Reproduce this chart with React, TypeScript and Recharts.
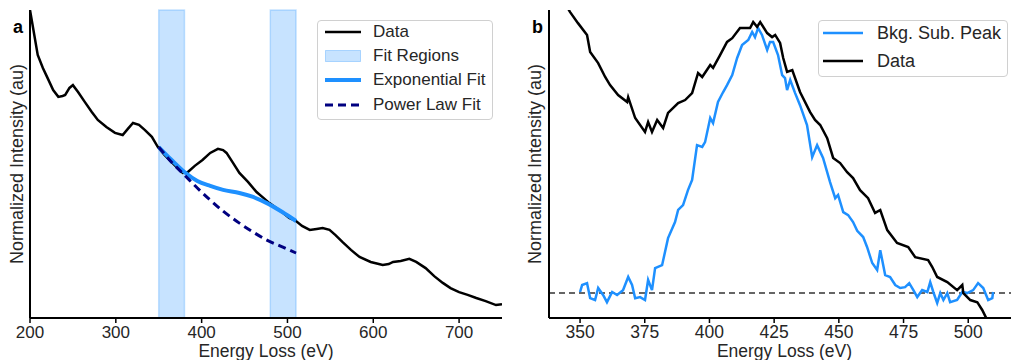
import React from 'react';
import { ComposedChart, Line, XAxis, YAxis, ReferenceArea, ReferenceLine } from 'recharts';

const FONT = '"Liberation Sans", Arial, Helvetica, sans-serif';
const TEXT = '#262626';

// ---------- Panel a ----------
const aEnergy = [200,205,209,215,220,227,233,238,241,246,250,256,264,272,279,289,299,308,314,320,327,334,342,349,357,365,372,378,384,392,401,410,419,425,429,436,444,454,464,472,479,487,495,502,510,517,526,534,541,549,556,564,574,584,597,611,618,623,632,642,650,661,671,681,690,700,710,720,731,743,750];
const aData = [1.0,0.919,0.854,0.812,0.782,0.740,0.718,0.721,0.724,0.747,0.756,0.734,0.701,0.669,0.643,0.620,0.601,0.594,0.614,0.633,0.627,0.610,0.588,0.555,0.529,0.506,0.487,0.471,0.474,0.494,0.513,0.536,0.549,0.545,0.536,0.506,0.471,0.442,0.409,0.390,0.373,0.357,0.341,0.325,0.315,0.299,0.286,0.289,0.292,0.286,0.269,0.247,0.221,0.198,0.182,0.172,0.175,0.182,0.185,0.192,0.182,0.162,0.136,0.114,0.097,0.084,0.075,0.065,0.055,0.042,0.045];
const fitEnergy = [350,365,380,395,410,425,444,460,476,494,510];
const expFit = [0.555,0.513,0.474,0.445,0.429,0.416,0.406,0.393,0.373,0.344,0.315];
const powFit = [0.555,0.506,0.464,0.422,0.383,0.347,0.308,0.279,0.253,0.231,0.211];
const fitRegions = [[350, 380], [480, 510]];
const aTicks = [200, 300, 400, 500, 600, 700];
const aLegend = ['Data', 'Fit Regions', 'Exponential Fit', 'Power Law Fit'];

// ---------- Panel b ----------
const bEnergy = [340,346.1,349.2,352.7,353.9,357,359.7,361.6,364.7,368.2,368.6,371.3,375.1,376.3,377.8,379.8,382.1,384,387.9,390.6,393.3,395.6,397.2,400.3,401.4,404.1,406.8,408.8,411.8,415.7,416.9,418.4,419.6,422.3,424.2,425.4,427.3,428.5,430,432,435,438.9,440.8,442.8,445.5,447.8,450.5,453.2,455.5,458.2,461.3,464,466,468.7,472.5,476.8,479.5,484.5,486.1,488,491.9,495.7,497.7,498.1,500.8,503.5,505.4,507.3,508.5];
const bData = [1.15,1.049,1.007,0.963,0.899,0.858,0.806,0.776,0.739,0.713,0.731,0.653,0.601,0.638,0.601,0.646,0.616,0.672,0.709,0.720,0.746,0.821,0.806,0.851,0.840,0.888,0.937,0.951,0.989,0.989,1.011,0.993,1.011,0.970,0.955,0.963,0.933,0.877,0.825,0.832,0.750,0.675,0.646,0.627,0.578,0.504,0.485,0.451,0.429,0.384,0.354,0.299,0.310,0.235,0.187,0.172,0.134,0.123,0.097,0.060,0.041,0.011,0.030,0.000,-0.026,-0.034,-0.063,-0.1,-0.15];
const peakEnergy = [350,350.8,352.7,353.9,355.8,357,358.9,360.4,362.4,364.3,366.6,368.6,370.1,371.3,373.2,375.1,376.3,377.8,379,381.7,384,386.7,387.9,389.8,391.7,393.3,395.2,397.2,398.3,400.3,401.4,403.3,405.3,406.8,408.8,410.7,412.6,415,416.5,417.6,418.8,420.3,422.3,423.4,424.6,426.5,428.1,429.2,430,431.2,433.1,435,437.7,439.7,441.6,443.9,446.6,448.6,449.7,451.7,453.6,455.5,457.1,459.4,460.9,462.9,464.8,466,467.9,469.8,471.8,473.7,475.6,477.2,478.8,480.3,482.2,484.2,485.3,486.5,488,489.2,490.4,491.9,493,495.7,497.7,499.6,501.9,503.8,505.8,507.7,509.3,509.6];
const peakData = [0.004,0.030,0.037,-0.019,-0.026,0.019,-0.007,-0.034,0.004,-0.007,0.011,0.060,0.030,-0.019,-0.015,-0.026,0.049,0.011,0.093,0.104,0.205,0.265,0.310,0.328,0.384,0.422,0.552,0.545,0.563,0.653,0.634,0.713,0.750,0.776,0.813,0.877,0.925,0.944,0.974,0.955,0.989,0.963,0.907,0.937,0.937,0.888,0.813,0.802,0.757,0.795,0.746,0.701,0.627,0.507,0.552,0.504,0.414,0.354,0.366,0.302,0.291,0.265,0.232,0.209,0.172,0.112,0.086,0.160,0.067,0.060,0.030,0.019,0.022,0.037,0.011,-0.015,0.011,0.004,0.041,0.004,-0.037,0.000,-0.026,0.000,-0.034,-0.026,0.004,0.000,0.011,0.037,0.019,-0.026,-0.019,0.004];
const bTicks = [350, 375, 400, 425, 450, 475, 500];
const bLegend = ['Bkg. Sub. Peak', 'Data'];

const zip = (xs: number[], ys: number[]) => xs.map((x, i) => ({ x, y: ys[i] }));

const DODGER = '#1e90ff';
const NAVY = '#000080';

function LegendA() {
  const centers = [12, 36, 60, 85];
  const samples = [
    <line x1={0} y1={6} x2={36} y2={6} stroke="#000" strokeWidth={2.5} />,
    <rect x={0.5} y={0.5} width={35} height={11} fill={DODGER} fillOpacity={0.25} stroke={DODGER} strokeOpacity={0.3} />,
    <line x1={0} y1={6} x2={36} y2={6} stroke={DODGER} strokeWidth={4} />,
    <line x1={0} y1={6} x2={36} y2={6} stroke={NAVY} strokeWidth={3} strokeDasharray="8 5" />,
  ];
  return (
    <div style={{ position: 'absolute', left: 317, top: 20, width: 176, height: 100, border: '1px solid #d0d0d0', borderRadius: 4, background: 'rgba(255,255,255,0.85)', boxSizing: 'border-box', fontFamily: FONT, fontSize: 17, color: TEXT }}>
      {aLegend.map((t, i) => (
        <div key={t} style={{ position: 'absolute', left: 7, top: centers[i] - 1 - 12, height: 24, display: 'flex', alignItems: 'center', whiteSpace: 'nowrap' }}>
          <svg width={36} height={12} style={{ display: 'block' }}>{samples[i]}</svg>
          <span style={{ marginLeft: 12 }}>{t}</span>
        </div>
      ))}
    </div>
  );
}

function LegendB() {
  const centers = [13, 41];
  const colors = [DODGER, '#000'];
  return (
    <div style={{ position: 'absolute', left: 818, top: 20, width: 190, height: 57, border: '1px solid #d0d0d0', borderRadius: 4, background: 'rgba(255,255,255,0.85)', boxSizing: 'border-box', fontFamily: FONT, fontSize: 18, color: TEXT }}>
      {bLegend.map((t, i) => (
        <div key={t} style={{ position: 'absolute', left: 4, top: centers[i] - 1 - 13, height: 26, display: 'flex', alignItems: 'center', whiteSpace: 'nowrap' }}>
          <svg width={40} height={12} style={{ display: 'block' }}>
            <line x1={0} y1={6} x2={40} y2={6} stroke={colors[i]} strokeWidth={2.5} />
          </svg>
          <span style={{ marginLeft: 14 }}>{t}</span>
        </div>
      ))}
    </div>
  );
}

const axisLine = { stroke: '#000', strokeWidth: 2 };
const tickLine = { stroke: '#000', strokeWidth: 1.5 };

export default function App() {
  return (
    <div style={{ position: 'absolute', left: 0, top: 0, width: 1011, height: 360, overflow: 'hidden', background: '#fff', fontFamily: FONT }}>
      <div style={{ position: 'absolute', left: 0, top: 0 }}>
        <ComposedChart width={520} height={360} margin={{ top: 10, right: 18, left: 0, bottom: 0 }}>
          <XAxis dataKey="x" type="number" domain={[200, 750]} ticks={aTicks} allowDataOverflow
            height={42} tickSize={5} tickMargin={3} axisLine={axisLine} tickLine={tickLine}
            tick={{ fontSize: 17, fill: TEXT }}
            label={{ value: 'Energy Loss (eV)', position: 'insideBottom', offset: 3, fontSize: 17.5, fill: TEXT }} />
          <XAxis xAxisId="top" orientation="top" type="number" domain={[200, 750]} height={0} tick={false} tickLine={false} axisLine={axisLine} />
          <YAxis type="number" domain={[0, 1]} allowDataOverflow width={30} tick={false} tickLine={false} axisLine={axisLine}
            label={{ value: 'Normalized Intensity (au)', angle: -90, position: 'center', dx: 2, fontSize: 18, fill: TEXT }} />
          <YAxis yAxisId="right" orientation="right" type="number" domain={[0, 1]} width={0} tick={false} tickLine={false} axisLine={axisLine} />
          {fitRegions.map(([a, b]) => (
            <ReferenceArea key={a} x1={a} x2={b} fill={DODGER} fillOpacity={0.25} stroke={DODGER} strokeOpacity={0.25} strokeWidth={1.5} />
          ))}
          <Line data={zip(aEnergy, aData)} dataKey="y" type="linear" dot={false} activeDot={false} stroke="#000" strokeWidth={2.5} isAnimationActive={false} />
          <Line data={zip(fitEnergy, expFit)} dataKey="y" type="monotone" dot={false} activeDot={false} stroke={DODGER} strokeWidth={4} isAnimationActive={false} />
          <Line data={zip(fitEnergy, powFit)} dataKey="y" type="monotone" dot={false} activeDot={false} stroke={NAVY} strokeWidth={3} strokeDasharray="8 5" isAnimationActive={false} />
        </ComposedChart>
      </div>
      <div style={{ position: 'absolute', left: 520, top: 0 }}>
        <ComposedChart width={500} height={360} margin={{ top: 10, right: 0, left: 0, bottom: 0 }}>
          <XAxis dataKey="x" type="number" domain={[338, 520]} ticks={bTicks} allowDataOverflow
            height={42} tickSize={5} tickMargin={3} axisLine={axisLine} tickLine={tickLine}
            tick={{ fontSize: 17.5, fill: TEXT }}
            label={{ value: 'Energy Loss (eV)', position: 'insideBottom', offset: 3, fontSize: 17.5, fill: TEXT }} />
          <XAxis xAxisId="top" orientation="top" type="number" domain={[338, 520]} height={0} tick={false} tickLine={false} axisLine={axisLine} />
          <YAxis type="number" domain={[-0.093, 1.056]} allowDataOverflow width={29} tick={false} tickLine={false} axisLine={axisLine}
            label={{ value: 'Normalized Intensity (au)', angle: -90, position: 'center', fontSize: 18, fill: TEXT }} />
          <ReferenceLine y={0} stroke="#333" strokeWidth={1.4} strokeDasharray="6 4" />
          <Line data={zip(peakEnergy, peakData)} dataKey="y" type="linear" dot={false} activeDot={false} stroke={DODGER} strokeWidth={2.5} isAnimationActive={false} />
          <Line data={zip(bEnergy, bData)} dataKey="y" type="linear" dot={false} activeDot={false} stroke="#000" strokeWidth={2.5} isAnimationActive={false} />
        </ComposedChart>
      </div>
      <LegendA />
      <LegendB />
      <div style={{ position: 'absolute', left: 13, top: 18, fontSize: 18, fontWeight: 'bold', lineHeight: '18px', color: '#000' }}>a</div>
      <div style={{ position: 'absolute', left: 532, top: 18, fontSize: 18, fontWeight: 'bold', lineHeight: '18px', color: '#000' }}>b</div>
    </div>
  );
}
